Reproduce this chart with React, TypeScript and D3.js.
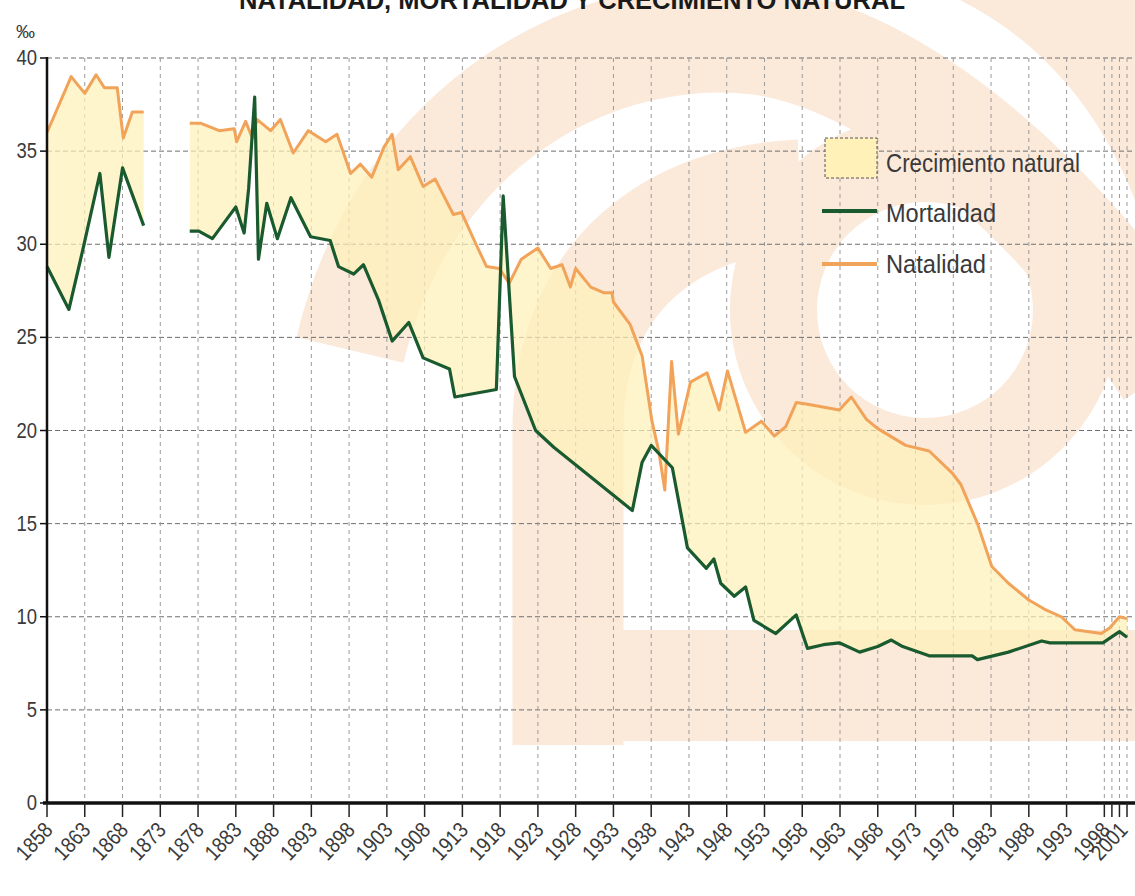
import React, { useEffect, useRef } from 'react';
import * as d3 from 'd3';

type Pt = [number, number];

// natalidad (‰), año -> valor
const natalidad1: Pt[] = [
  [1858, 36.0], [1861.2, 39.0], [1863, 38.1], [1864.5, 39.1], [1865.6, 38.4],
  [1867.3, 38.4], [1868.1, 35.7], [1869.3, 37.1], [1870.8, 37.1],
];
const natalidad2: Pt[] = [
  [1876.9, 36.5], [1878.3, 36.5], [1880.8, 36.1], [1882.8, 36.2], [1883.1, 35.5],
  [1884.3, 36.6], [1885.2, 35.7], [1885.8, 36.7], [1887.6, 36.1], [1888.9, 36.7],
  [1890.6, 34.9], [1892.6, 36.1], [1894.9, 35.5], [1896.4, 35.9], [1898.2, 33.8],
  [1899.5, 34.3], [1901, 33.6], [1902.6, 35.2], [1903.7, 35.9], [1904.5, 34.0],
  [1906.1, 34.7], [1907.8, 33.1], [1909.4, 33.5], [1911.8, 31.6], [1912.9, 31.7],
  [1914.8, 30.0], [1916.2, 28.8], [1917.9, 28.7], [1919.2, 27.9], [1920.8, 29.2],
  [1923, 29.8], [1924.7, 28.7], [1926.2, 28.9], [1927.3, 27.7], [1928, 28.7],
  [1930, 27.7], [1931.7, 27.4], [1932.8, 27.4], [1933, 26.9], [1935.2, 25.7],
  [1936.8, 24.0], [1938.1, 20.5], [1939, 18.9], [1939.8, 16.8], [1940.7, 23.7],
  [1941.6, 19.8], [1943.2, 22.6], [1945.4, 23.1], [1947, 21.1], [1948.1, 23.2],
  [1950.5, 19.9], [1952.6, 20.5], [1954.3, 19.7], [1955.8, 20.2], [1957.2, 21.5],
  [1958.9, 21.4], [1962.9, 21.1], [1964.5, 21.8], [1966.5, 20.6], [1968, 20.1],
  [1971.7, 19.2], [1974.8, 18.9], [1977.9, 17.7], [1979, 17.1], [1981.2, 15.0],
  [1983.1, 12.7], [1985.3, 11.8], [1988, 10.9], [1990.1, 10.4], [1992.3, 10.0],
  [1994.1, 9.3], [1997.6, 9.1], [1998.7, 9.4], [2000, 10.0], [2001, 9.9],
];

// mortalidad (‰)
const mortalidad1: Pt[] = [
  [1858, 28.8], [1860.9, 26.5], [1862.8, 29.8], [1865, 33.8], [1866.2, 29.3],
  [1868, 34.1], [1870.8, 31.0],
];
const mortalidad2: Pt[] = [
  [1876.9, 30.7], [1878.1, 30.7], [1879.9, 30.3], [1881.9, 31.4], [1883, 32.0],
  [1884.1, 30.6], [1884.7, 33.0], [1885.5, 37.9], [1886, 29.2], [1887.1, 32.2],
  [1888.5, 30.3], [1890.3, 32.5], [1892.9, 30.4], [1895.5, 30.2], [1896.6, 28.8],
  [1898.6, 28.4], [1899.9, 28.9], [1901.9, 27.0], [1903.7, 24.8], [1905.9, 25.8],
  [1907.8, 23.9], [1911.3, 23.3], [1912, 21.8], [1917.5, 22.2], [1918.4, 32.6],
  [1919.9, 22.9], [1922.7, 20.0], [1925.1, 19.1], [1933.7, 16.3], [1935.5, 15.7],
  [1936.8, 18.3], [1938, 19.2], [1940.8, 18.0], [1942.8, 13.7], [1945.3, 12.6],
  [1946.3, 13.1], [1947.2, 11.8], [1949, 11.1], [1950.5, 11.6], [1951.6, 9.8],
  [1954.5, 9.1], [1957.2, 10.1], [1958.7, 8.3], [1960.8, 8.5], [1962.9, 8.6],
  [1965.6, 8.1], [1968, 8.4], [1969.8, 8.75], [1971.3, 8.4], [1974.8, 7.9],
  [1980.5, 7.9], [1981.2, 7.7], [1985.3, 8.1], [1989.7, 8.7], [1990.8, 8.6],
  [1997.8, 8.6], [2000, 9.2], [2001, 8.9],
];

const tickYears = [
  1858, 1863, 1868, 1873, 1878, 1883, 1888, 1893, 1898, 1903, 1908, 1913, 1918,
  1923, 1928, 1933, 1938, 1943, 1948, 1953, 1958, 1963, 1968, 1973, 1978, 1983,
  1988, 1993, 1998, 1999, 2000, 2001,
];
const labelYears = [
  1858, 1863, 1868, 1873, 1878, 1883, 1888, 1893, 1898, 1903, 1908, 1913, 1918,
  1923, 1928, 1933, 1938, 1943, 1948, 1953, 1958, 1963, 1968, 1973, 1978, 1983,
  1988, 1993, 1998, 2001,
];
const yTicks = [0, 5, 10, 15, 20, 25, 30, 35, 40];

const title = 'NATALIDAD, MORTALIDAD Y CRECIMIENTO NATURAL';
const legendItems = ['Crecimiento natural', 'Mortalidad', 'Natalidad'];

const FONT = "'Liberation Sans', Arial, sans-serif";
const ORANGE = '#f2a35a';
const GREEN = '#1a5a2f';
const FILL = '#fff1b8';
const PEACH = '#f7cfae';

const App: React.FC = () => {
  const ref = useRef<SVGSVGElement>(null);

  useEffect(() => {
    if (!ref.current) return;
    const svg = d3.select(ref.current);
    svg.selectAll('*').remove();

    const x = d3.scaleLinear().domain([1858, 2001]).range([47, 1127]);
    const y = d3.scaleLinear().domain([0, 40]).range([803, 58]);

    // marca de agua del fondo (logotipo difuminado)
    const wm = svg.append('g').attr('opacity', 0.45);
    wm.append('path')
      .attr('fill', 'none').attr('stroke', PEACH).attr('stroke-width', 110)
      .attr('d', 'M 350 350 C 405 120, 600 20, 760 40 C 900 60, 1060 200, 1170 370');
    wm.append('path')
      .attr('fill', PEACH)
      .attr('d', 'M 960 0 L 1135 0 L 1135 200 C 1100 110, 1040 40, 960 0 Z');
    wm.append('path')
      .attr('fill', 'none').attr('stroke', PEACH).attr('stroke-width', 111)
      .attr('d', 'M 568 745 L 568 430 C 568 270, 680 200, 800 195');
    wm.append('path')
      .attr('fill', PEACH).attr('fill-rule', 'evenodd')
      .attr('d',
        'M 730 310 A 195 195 0 1 0 1120 310 A 195 195 0 1 0 730 310 Z ' +
        'M 817 310 A 108 108 0 1 0 1033 310 A 108 108 0 1 0 817 310 Z');
    wm.append('rect')
      .attr('x', 513).attr('y', 630).attr('width', 622).attr('height', 111)
      .attr('fill', PEACH);

    // rejilla
    const grid = svg.append('g').attr('fill', 'none');
    grid.selectAll('line.h')
      .data(yTicks.filter((d) => d > 0))
      .join('line')
      .attr('x1', x(1858)).attr('x2', 1135)
      .attr('y1', (d) => y(d)).attr('y2', (d) => y(d))
      .attr('stroke', '#6f6f6f').attr('stroke-width', 1)
      .attr('stroke-dasharray', '5,3');
    grid.selectAll('line.v')
      .data(tickYears.filter((d) => d > 1858))
      .join('line')
      .attr('x1', (d) => x(d)).attr('x2', (d) => x(d))
      .attr('y1', y(40)).attr('y2', y(0))
      .attr('stroke', '#9a9a9a').attr('stroke-width', 1)
      .attr('stroke-dasharray', '4,4');

    // crecimiento natural
    const line = d3.line<Pt>().x((d) => x(d[0])).y((d) => y(d[1]));
    [[natalidad1, mortalidad1], [natalidad2, mortalidad2]].forEach(([n, m]) => {
      svg.append('path')
        .attr('d', line([...n, ...m.slice().reverse()]) + 'Z')
        .attr('fill', FILL)
        .attr('opacity', 0.7);
    });

    // series
    [natalidad1, natalidad2].forEach((s) => {
      svg.append('path').attr('d', line(s)).attr('fill', 'none')
        .attr('stroke', ORANGE).attr('stroke-width', 3).attr('stroke-linejoin', 'round');
    });
    [mortalidad1, mortalidad2].forEach((s) => {
      svg.append('path').attr('d', line(s)).attr('fill', 'none')
        .attr('stroke', GREEN).attr('stroke-width', 3.2).attr('stroke-linejoin', 'round');
    });

    // ejes
    svg.append('line')
      .attr('x1', x(1858)).attr('x2', x(1858)).attr('y1', y(40) - 1).attr('y2', y(0))
      .attr('stroke', '#111').attr('stroke-width', 2.5);
    svg.append('line')
      .attr('x1', x(1858) - 4).attr('x2', 1135).attr('y1', y(0)).attr('y2', y(0))
      .attr('stroke', '#111').attr('stroke-width', 3.5);

    const yAxis = svg.append('g');
    yAxis.selectAll('line')
      .data(yTicks)
      .join('line')
      .attr('x1', x(1858) - 7).attr('x2', x(1858))
      .attr('y1', (d) => y(d)).attr('y2', (d) => y(d))
      .attr('stroke', '#111').attr('stroke-width', 1.5);
    yAxis.selectAll('text')
      .data(yTicks)
      .join('text')
      .attr('transform', (d) => `translate(37,${y(d) + 7}) scale(0.88,1.05)`)
      .attr('text-anchor', 'end')
      .attr('font-family', FONT).attr('font-size', 21).attr('fill', '#3a3a3a')
      .text((d) => d);
    svg.append('text')
      .attr('x', 16).attr('y', 38)
      .attr('font-family', FONT).attr('font-size', 19).attr('fill', '#3a3a3a')
      .text('‰');

    const xAxis = svg.append('g');
    xAxis.selectAll('line')
      .data(tickYears)
      .join('line')
      .attr('x1', (d) => x(d)).attr('x2', (d) => x(d))
      .attr('y1', y(0)).attr('y2', y(0) + 14)
      .attr('stroke', '#222').attr('stroke-width', 1.5);
    xAxis.selectAll('text')
      .data(labelYears)
      .join('text')
      .attr('transform', (d) =>
        `translate(${x(d) + (d === 2001 ? 2 : 7)},${y(0) + 28}) rotate(-47) scale(0.9,1.05)`)
      .attr('text-anchor', 'end')
      .attr('font-family', FONT).attr('font-size', 21).attr('fill', '#3a3a3a')
      .text((d) => d);

    // título (cortado por arriba, como en el original)
    svg.append('text')
      .attr('x', 239).attr('y', 9)
      .attr('textLength', 666).attr('lengthAdjust', 'spacingAndGlyphs')
      .attr('font-family', FONT).attr('font-weight', 'bold').attr('font-size', 26)
      .attr('fill', '#1a1a1a')
      .text(title);

    // leyenda
    const lg = svg.append('g');
    lg.append('rect')
      .attr('x', 825).attr('y', 138).attr('width', 52).attr('height', 40)
      .attr('fill', FILL).attr('stroke', '#555').attr('stroke-width', 1)
      .attr('stroke-dasharray', '3,2');
    lg.append('line').attr('x1', 822).attr('x2', 877).attr('y1', 211).attr('y2', 211)
      .attr('stroke', GREEN).attr('stroke-width', 4);
    lg.append('line').attr('x1', 822).attr('x2', 877).attr('y1', 264).attr('y2', 264)
      .attr('stroke', ORANGE).attr('stroke-width', 4);
    const lens = [194, 110, 100];
    const baselines = [172, 222, 273];
    lg.selectAll('text')
      .data(legendItems)
      .join('text')
      .attr('x', 886).attr('y', (_, i) => baselines[i])
      .attr('textLength', (_, i) => lens[i]).attr('lengthAdjust', 'spacingAndGlyphs')
      .attr('font-family', FONT).attr('font-size', 25).attr('fill', '#3a3a3a')
      .text((d) => d);
  }, []);

  return (
    <svg
      ref={ref}
      width={1135}
      height={896}
      style={{ position: 'absolute', left: 0, top: 0, background: '#fff' }}
    />
  );
};

export default App;
